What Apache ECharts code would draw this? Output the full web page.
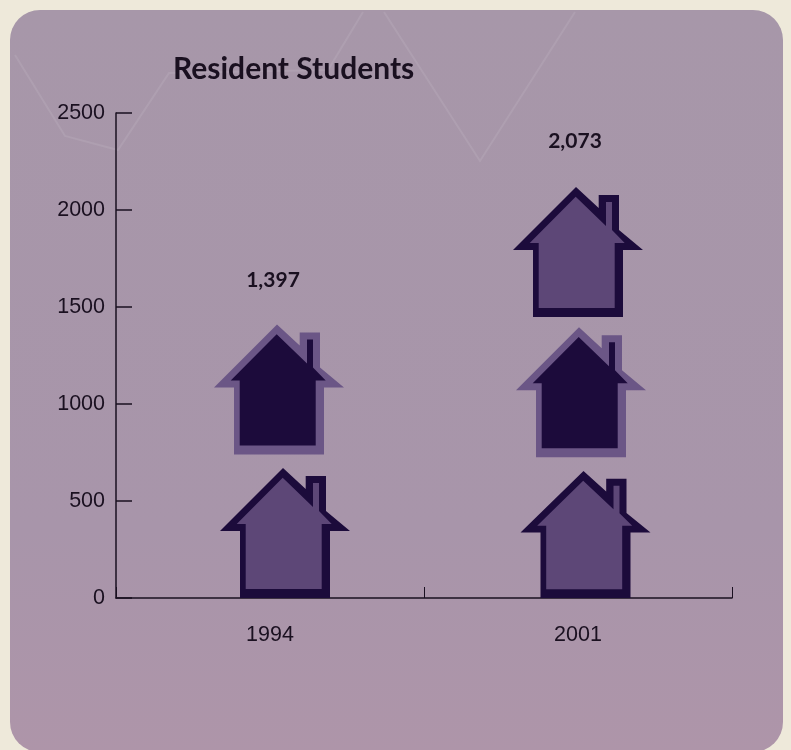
<!DOCTYPE html>
<html>
<head>
<meta charset="utf-8">
<style>html,body{margin:0;padding:0;background:#eee9da}#c{width:791px;height:750px}</style>
<script src="https://cdn.jsdelivr.net/npm/echarts@6/dist/echarts.min.js"></script>
</head>
<body>
<div id="c"></div>
<script>
const categories = ['1994', '2001'];
const totals = [1397, 2073];
const totalLabelHeights = [1637, 2355];
// Height reached by the top of each drawn house
const lowerHouse = [670, 655];
const middleHouse = [1410, 1395];
const upperHouse = [null, 2118];
const title = 'Resident Students';

const outerPath = 'path://M283 468L305.7 489L305.7 476L326 476L326 511L350 531L330 531L330 598L240 598L240 531L220 531Z';
const innerPath = 'path://M282.7 477.7L313 507L313 483L319 483L319 511L331.7 524L321.7 524L321.7 589L245.7 589L245.7 524L236.7 524Z';
const DARK = '#1c0b3b', MID = '#5d4777', EDGE = '#6b5686';

function layer(name, values, path, sizes, color, offsets, dy, z) {
  return {
    type: 'pictorialBar', name, barGap: '-100%', barWidth: 131,
    data: values.map((v, i) => ({value: v, symbolOffset: [offsets[i], dy], symbolSize: sizes[i]})),
    symbol: path, symbolPosition: 'end',
    silent: true, z,
    itemStyle: {color}
  };
}
function house(name, values, edge, fill, offsets, heights) {
  return [
    layer(name + ' edge', values, outerPath, heights.map(h => [130, h]), edge, offsets, 0, 3),
    layer(name + ' fill', values, innerPath, heights.map(h => [95, h * 111.3 / 130]), fill, offsets.map(o => o - 0.8), 9.7, 4)
  ];
}

const chart = echarts.init(document.getElementById('c'), null, {renderer: 'canvas'});
chart.setOption({
  animation: false,
  backgroundColor: '#eee9da',
  title: {text: title, left: 168, top: 49, textStyle: {fontFamily: 'Lato', fontWeight: 'bold', fontSize: 30, color: '#1a1020'}},
  grid: {left: 116, right: 59, top: 113, bottom: 152},
  graphic: [
    {type: 'rect', z: -10, shape: {x: 10, y: 10, width: 773, height: 742, r: 30},
     style: {fill: new echarts.graphic.LinearGradient(0, 0, 0, 1, [
       {offset: 0, color: '#a797a9'}, {offset: 0.7, color: '#a895aa'}, {offset: 1, color: '#ae95a9'}])}},
    {type: 'polyline', z: -9, shape: {points: [[15, 55], [65, 136], [118, 150], [169, 73], [328, 70], [363, 12]]},
     style: {fill: 'none', stroke: 'rgba(185,172,188,0.4)', lineWidth: 2}},
    {type: 'polyline', z: -9, shape: {points: [[384, 12], [480, 161], [575, 12]]},
     style: {fill: 'none', stroke: 'rgba(185,172,188,0.4)', lineWidth: 2}}
  ],
  xAxis: {
    type: 'category', data: categories,
    axisLine: {lineStyle: {color: '#1a1020', width: 1.5}},
    axisTick: {show: true, inside: true, length: 11, lineStyle: {color: '#1a1020'}},
    axisLabel: {margin: 26, fontFamily: 'Liberation Sans', fontSize: 21.5, color: '#1a1020'}
  },
  yAxis: {
    type: 'value', min: 0, max: 2500, interval: 500,
    axisLine: {show: true, lineStyle: {color: '#1a1020', width: 1.5}},
    axisTick: {show: true, inside: true, length: 16, lineStyle: {color: '#1a1020', width: 1.5}},
    splitLine: {show: false},
    axisLabel: {margin: 11, padding: [5, 0, 0, 0], fontFamily: 'Liberation Sans', fontSize: 21.5, color: '#1a1020', formatter: v => String(v)}
  },
  series: [
    ...house('lower', lowerHouse, DARK, MID, [15, 7.5], [130, 127]),
    ...house('middle', middleHouse, EDGE, DARK, [9, 3], [130, 130]),
    ...house('upper', upperHouse, DARK, MID, [0, 0], [130, 130]),
    {
      type: 'scatter', name: 'total', symbolSize: 0, silent: true, z: 5,
      itemStyle: {opacity: 1},
      data: totals.map((v, i) => ({value: [categories[i], totalLabelHeights[i]], label: {offset: [i === 0 ? 3 : -3, 0]}})),
      label: {show: true, position: 'inside', opacity: 1, fontFamily: 'Lato', fontWeight: 'bold', fontSize: 21, color: '#1a1020',
        formatter: p => totals[p.dataIndex].toLocaleString('en-US')}
    }
  ]
});
</script>
</body>
</html>
